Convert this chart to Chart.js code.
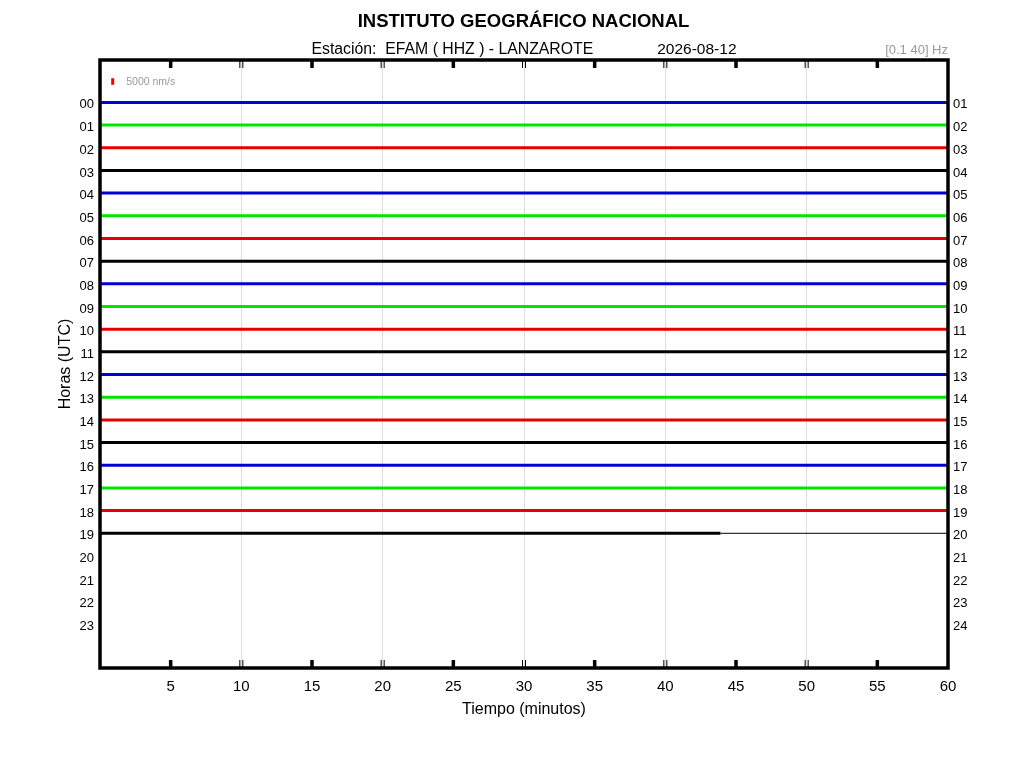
<!DOCTYPE html>
<html><head><meta charset="utf-8">
<script src="https://cdn.jsdelivr.net/npm/chart.js@4.4.1/dist/chart.umd.min.js"></script>
<style>html,body{margin:0;padding:0;background:#fff;}#wrap{width:1024px;height:768px;position:relative;}</style>
</head><body><div id="wrap"><canvas id="c" width="1024" height="768"></canvas></div>
<script>
// ---- data ----
const hourLabelsLeft = ['00','01','02','03','04','05','06','07','08','09','10','11','12','13','14','15','16','17','18','19','20','21','22','23'];
const hourLabelsRight = ['01','02','03','04','05','06','07','08','09','10','11','12','13','14','15','16','17','18','19','20','21','22','23','24'];
const traceHours = [0,1,2,3,4,5,6,7,8,9,10,11,12,13,14,15,16,17,18,19];
const traceStartMinute = [0,0,0,0,0,0,0,0,0,0,0,0,0,0,0,0,0,0,0,0];
const traceEndMinute = [60,60,60,60,60,60,60,60,60,60,60,60,60,60,60,60,60,60,60,43.9];
const tailHour = [19];
const tailStartMinute = [43.9];
const tailEndMinute = [60];
const minuteTickValues = [5,10,15,20,25,30,35,40,45,50,55,60];
const scaleBarMinute = [0.9];
const scaleBarRange = [-1.07,-0.78];
const scaleBarText = '5000 nm/s';
const titleText = 'INSTITUTO GEOGRÁFICO NACIONAL';
const stationText = 'Estación:  EFAM ( HHZ ) - LANZAROTE';
const dateText = '2026-08-12';
const filterText = '[0.1 40] Hz';

const palette = ['#0000d2','#00e600','#e60000','#000000'];
const FONT = "'Liberation Sans', Arial, sans-serif";

const datasets = traceHours.map((h,i)=>({
  label: hourLabelsLeft[h],
  data: [{x:traceStartMinute[i],y:h},{x:traceEndMinute[i],y:h}],
  borderColor: palette[i%4], borderWidth: 3, pointRadius: 0, tension: 0
}));
tailHour.forEach((h,i)=>datasets.push({
  label:'tail', data:[{x:tailStartMinute[i],y:h},{x:tailEndMinute[i],y:h}],
  borderColor:'#000', borderWidth:1, pointRadius:0
}));
datasets.push({label:'scale', data:[{x:scaleBarMinute[0],y:scaleBarRange[0]},{x:scaleBarMinute[0],y:scaleBarRange[1]}],
  borderColor:'#e60000', borderWidth:3, pointRadius:0});

const framePlugin = {
  id:'frame',
  afterDraw(chart){
    const ctx = chart.ctx, a = chart.chartArea, xs = chart.scales.x, ys = chart.scales.y;
    ctx.save();
    ctx.strokeStyle = '#000';
    minuteTickValues.forEach(v=>{
      if (v>=60) return;
      const px = xs.getPixelForValue(v);
      if (v%10===0){
        ctx.lineWidth = 1;
        [-1.5,1.5].forEach(d=>{
          ctx.beginPath(); ctx.moveTo(px+d,a.top); ctx.lineTo(px+d,a.top+8); ctx.stroke();
          ctx.beginPath(); ctx.moveTo(px+d,a.bottom); ctx.lineTo(px+d,a.bottom-8); ctx.stroke();
        });
      } else {
        ctx.lineWidth = 3.5;
        ctx.beginPath(); ctx.moveTo(px,a.top); ctx.lineTo(px,a.top+8); ctx.stroke();
        ctx.beginPath(); ctx.moveTo(px,a.bottom); ctx.lineTo(px,a.bottom-8); ctx.stroke();
      }
    });
    ctx.lineWidth = 3.5;
    ctx.strokeRect(a.left,a.top,a.right-a.left,a.bottom-a.top);
    ctx.fillStyle = '#000';
    ctx.textBaseline = 'alphabetic';
    ctx.textAlign = 'center';
    ctx.font = 'bold 18.5px '+FONT;
    ctx.fillText(titleText, 523.5, 27);
    ctx.font = '15.8px '+FONT;
    ctx.textAlign = 'left';
    ctx.fillText(stationText, 311.5, 54);
    ctx.textAlign = 'right';
    ctx.font = '15.5px '+FONT;
    ctx.fillText(dateText, 736.5, 54);
    ctx.fillStyle = '#9a9a9a';
    ctx.font = '13px '+FONT;
    ctx.fillText(filterText, a.right, 54);
    ctx.textAlign = 'left';
    ctx.textBaseline = 'middle';
    ctx.font = '10.5px '+FONT;
    ctx.fillText(scaleBarText, xs.getPixelForValue(scaleBarMinute[0])+13.5, ys.getPixelForValue((scaleBarRange[0]+scaleBarRange[1])/2)+0.5);
    ctx.restore();
  }
};

new Chart(document.getElementById('c'), {
  type:'line',
  data:{datasets},
  options:{
    responsive:false, animation:false, devicePixelRatio:1,
    layout:{padding:{left:52,top:60,right:0,bottom:49}},
    plugins:{legend:{display:false},tooltip:{enabled:false}},
    scales:{
      x:{type:'linear',min:0,max:60,
        afterFit(s){s.height=51;},
        ticks:{stepSize:5,autoSkip:false,padding:10,color:'#000',font:{family:FONT,size:15},
          callback:(v)=> v===0 ? '' : String(v)},
        grid:{drawTicks:false,color:(c)=>{const v=c.tick&&c.tick.value;return (v%10===0&&v>0&&v<60)?'#dcdcdc':'rgba(0,0,0,0)';},lineWidth:1},
        border:{display:false},
        title:{display:true,text:'Tiempo (minutos)',color:'#000',font:{family:FONT,size:16},padding:{top:0,bottom:0}}
      },
      y:{type:'linear',reverse:true,min:-1.87,max:24.94,position:'left',
        afterFit(s){s.width=48;},
        afterBuildTicks(s){s.ticks = hourLabelsLeft.map((_,i)=>({value:i}));},
        ticks:{autoSkip:false,padding:6,labelOffset:2.5,color:'#000',font:{family:FONT,size:13},
          callback:(v)=> hourLabelsLeft[v] ?? ''},
        grid:{display:false,drawTicks:false},border:{display:false},
        title:{display:true,text:'Horas (UTC)',color:'#000',font:{family:FONT,size:16},padding:{top:4,bottom:0}}
      },
      y2:{type:'linear',reverse:true,min:-1.87,max:24.94,position:'right',
        afterFit(s){s.width=76;},
        afterBuildTicks(s){s.ticks = hourLabelsRight.map((_,i)=>({value:i}));},
        ticks:{autoSkip:false,padding:5,labelOffset:2.5,color:'#000',font:{family:FONT,size:13},
          callback:(v)=> hourLabelsRight[v] ?? ''},
        grid:{display:false,drawTicks:false},border:{display:false}
      }
    }
  },
  plugins:[framePlugin]
});
</script></body></html>
